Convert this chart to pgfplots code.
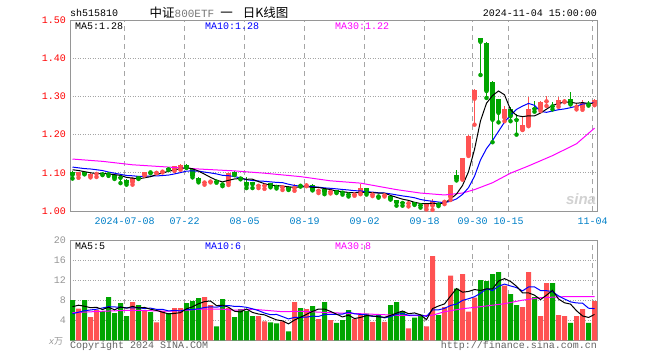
\documentclass[border=0pt]{standalone}
\usepackage{fontspec}
\setmainfont{Liberation Mono}
\newfontfamily\cjk{Noto Sans CJK SC}
\newfontfamily\sansb{Liberation Sans}
\usepackage{pgfplots}
\pgfplotsset{compat=1.18}
\usepackage{pgfplotstable}
\definecolor{kred}{RGB}{255,82,82}
\definecolor{kgreen}{RGB}{0,165,0}
\definecolor{mablue}{RGB}{0,0,255}
\definecolor{mamag}{RGB}{255,0,255}
\definecolor{gridc}{RGB}{165,165,165}
\definecolor{framec}{RGB}{150,150,150}
\definecolor{xlab}{RGB}{0,128,200}
\definecolor{copyc}{RGB}{100,100,100}
\definecolor{titlegray}{RGB}{120,120,120}

\pgfplotstableread{
x o h l c v
1 1.094 1.103 1.087 1.101 6.3
3 1.091 1.099 1.088 1.097 4.6
4 1.097 1.102 1.089 1.100 6.0
10 1.075 1.089 1.069 1.087 7.6
12 1.095 1.103 1.093 1.101 6.0
14 1.100 1.104 1.099 1.103 3.6
15 1.103 1.107 1.101 1.106 5.8
17 1.107 1.118 1.105 1.117 6.4
18 1.110 1.123 1.108 1.121 6.4
22 1.0745 1.077 1.069 1.0765 8.6
23 1.077 1.081 1.075 1.079 7.0
26 1.073 1.100 1.068 1.099 6.4
31 1.066 1.070 1.060 1.068 4.8
32 1.066 1.069 1.058 1.068 3.8
35 1.062 1.067 1.055 1.064 3.8
37 1.060 1.071 1.053 1.063 7.6
39 1.067 1.074 1.065 1.069 6.2
41 1.053 1.058 1.047 1.055 4.2
43 1.050 1.055 1.046 1.053 4.0
47 1.043 1.047 1.040 1.045 4.2
48 1.046 1.071 1.044 1.060 5.1
50 1.043 1.046 1.039 1.045 3.7
52 1.041 1.046 1.038 1.043 3.7
56 1.020 1.025 1.012 1.022 2.4
59 1.012 1.020 1.004 1.019 2.8
60 1.014 1.031 1.003 1.027 16.8
62 1.024 1.029 1.018 1.026 6.6
63 1.036 1.069 1.029 1.068 12.9
65 1.084 1.140 1.082 1.139 13.2
66 1.147 1.198 1.144 1.197 5.7
67 1.294 1.319 1.226 1.318 8.5
72 1.244 1.274 1.235 1.268 10.9
75 1.213 1.249 1.212 1.224 6.6
76 1.224 1.299 1.222 1.268 13.6
78 1.266 1.287 1.262 1.285 4.8
79 1.287 1.301 1.275 1.289 11.4
81 1.279 1.298 1.273 1.290 5.0
82 1.287 1.292 1.285 1.289 4.8
84 1.273 1.281 1.266 1.276 4.8
85 1.270 1.290 1.265 1.283 6.2
87 1.279 1.293 1.277 1.290 7.8
}\redk

\pgfplotstableread{
x o h l c v
0 1.101 1.104 1.085 1.095 8.0
2 1.102 1.104 1.096 1.097 8.0
5 1.099 1.101 1.094 1.096 5.8
6 1.098 1.100 1.092 1.096 8.6
7 1.093 1.095 1.084 1.087 5.4
8 1.090 1.091 1.073 1.087 7.4
9 1.082 1.083 1.069 1.074 4.8
11 1.091 1.092 1.084 1.086 7.0
13 1.103 1.104 1.099 1.101 5.6
16 1.112 1.113 1.108 1.109 5.4
19 1.121 1.122 1.113 1.114 7.4
20 1.112 1.113 1.088 1.092 7.8
21 1.087 1.089 1.075 1.079 8.4
24 1.079 1.080 1.074 1.077 2.8
25 1.0715 1.074 1.065 1.0695 8.2
27 1.103 1.104 1.094 1.095 4.6
28 1.088 1.090 1.083 1.085 6.2
29 1.075 1.088 1.060 1.067 5.8
30 1.076 1.077 1.060 1.070 4.8
33 1.073 1.074 1.062 1.064 3.6
34 1.065 1.067 1.059 1.063 3.4
36 1.064 1.065 1.055 1.057 1.8
38 1.068 1.069 1.064 1.066 6.4
40 1.069 1.070 1.054 1.055 6.8
42 1.057 1.058 1.044 1.049 7.6
44 1.054 1.055 1.047 1.049 3.5
45 1.050 1.051 1.043 1.048 4.0
46 1.045 1.046 1.038 1.043 6.0
49 1.059 1.060 1.043 1.047 5.3
51 1.040 1.041 1.035 1.038 5.1
53 1.040 1.042 1.030 1.031 7.0
54 1.029 1.030 1.014 1.022 7.6
55 1.023 1.024 1.014 1.021 5.8
57 1.023 1.024 1.016 1.018 4.5
58 1.017 1.021 1.009 1.015 5.1
61 1.019 1.022 1.013 1.017 5.0
64 1.095 1.108 1.080 1.084 10.3
68 1.452 1.453 1.356 1.443 12.0
69 1.441 1.442 1.296 1.314 11.8
70 1.338 1.340 1.180 1.239 13.2
71 1.292 1.293 1.232 1.257 13.6
73 1.266 1.273 1.235 1.248 9.2
74 1.241 1.253 1.200 1.238 7.0
77 1.270 1.287 1.260 1.267 8.6
80 1.276 1.285 1.266 1.274 11.4
83 1.294 1.311 1.279 1.281 3.5
86 1.282 1.288 1.276 1.279 3.5
}\greenk

\pgfplotstableread{
x y
0 1.108
1 1.106
2 1.103
3 1.100
4 1.0980
5 1.0982
6 1.0972
7 1.0952
8 1.0932
9 1.0880
10 1.0862
11 1.0842
12 1.0870
13 1.0898
14 1.0956
15 1.0994
16 1.1040
17 1.1072
18 1.1112
19 1.1134
20 1.1106
21 1.1046
22 1.0965
23 1.0881
24 1.0807
25 1.0762
26 1.0802
27 1.0839
28 1.0851
29 1.0831
30 1.0832
31 1.0770
32 1.0716
33 1.0674
34 1.0666
35 1.0654
36 1.0632
37 1.0622
38 1.0626
39 1.0638
40 1.0620
41 1.0616
42 1.0588
43 1.0562
44 1.0522
45 1.0508
46 1.0484
47 1.0476
48 1.0490
49 1.0486
50 1.0480
51 1.0470
52 1.0466
53 1.0408
54 1.0358
55 1.0310
56 1.0278
57 1.0228
58 1.0196
59 1.0190
60 1.0202
61 1.0192
62 1.0208
63 1.0314
64 1.0444
65 1.0668
66 1.1028
67 1.1612
68 1.2362
69 1.2822
70 1.3022
71 1.3142
72 1.3042
73 1.2652
74 1.2500
75 1.2470
76 1.2492
77 1.2490
78 1.2564
79 1.2666
80 1.2766
81 1.2810
82 1.2854
83 1.2846
84 1.2820
85 1.2838
86 1.2816
87 1.2818
}\mafive

\pgfplotstableread{
x y
0 1.115
1 1.113
2 1.111
3 1.110
4 1.108
5 1.106
6 1.102
7 1.099
8 1.096
9 1.0930
10 1.0922
11 1.0907
12 1.0911
13 1.0915
14 1.0918
15 1.0928
16 1.0941
17 1.0971
18 1.1005
19 1.1045
20 1.1050
21 1.1043
22 1.1019
23 1.0997
24 1.0971
25 1.0934
26 1.0924
27 1.0902
28 1.0866
29 1.0819
30 1.0797
31 1.0786
32 1.0778
33 1.0763
34 1.0749
35 1.0743
36 1.0701
37 1.0669
38 1.0650
39 1.0652
40 1.0637
41 1.0624
42 1.0605
43 1.0594
44 1.0580
45 1.0564
46 1.0550
47 1.0532
48 1.0526
49 1.0504
50 1.0494
51 1.0477
52 1.0471
53 1.0449
54 1.0422
55 1.0395
56 1.0374
57 1.0347
58 1.0302
59 1.0274
60 1.0256
61 1.0235
62 1.0218
63 1.0255
64 1.0317
65 1.0435
66 1.0610
67 1.0910
68 1.1338
69 1.1633
70 1.1845
71 1.2085
72 1.2327
73 1.2507
74 1.2661
75 1.2746
76 1.2817
77 1.2766
78 1.2608
79 1.2583
80 1.2618
81 1.2651
82 1.2672
83 1.2705
84 1.2743
85 1.2802
86 1.2813
87 1.2836
}\maten

\pgfplotstableread{
x y
0 1.136
5 1.130
10 1.121
16 1.115
21 1.110
27 1.105
32 1.099
38 1.090
43 1.079
48 1.073
54 1.056
58 1.047
62 1.042
65 1.047
67 1.056
70 1.074
73 1.099
76 1.118
80 1.145
84 1.176
87 1.217
}\mathirty

\pgfplotstableread{
x y
0 6.7
1 7.0
2 6.8
3 6.5
4 6.58
5 6.14
6 6.60
7 6.08
8 6.64
9 6.40
10 6.76
11 6.44
12 6.56
13 6.20
14 5.96
15 5.60
16 5.28
17 5.36
18 5.52
19 6.28
20 6.68
21 7.28
22 7.72
23 7.84
24 6.92
25 7.00
26 6.60
27 5.80
28 5.64
29 6.24
30 5.56
31 5.24
32 5.08
33 4.56
34 4.08
35 3.88
36 3.28
37 4.04
38 4.60
39 5.16
40 5.76
41 6.24
42 6.24
43 5.76
44 5.22
45 4.66
46 5.02
47 4.34
48 4.56
49 4.92
50 4.86
51 4.68
52 4.58
53 4.96
54 5.42
55 5.84
56 5.30
57 5.46
58 5.08
59 4.12
60 6.32
61 6.84
62 7.26
63 8.82
64 10.32
65 9.60
66 9.74
67 10.12
68 9.94
69 10.24
70 10.24
71 11.82
72 12.30
73 11.74
74 10.78
75 9.46
76 9.46
77 9.00
78 8.12
79 9.00
80 9.96
81 8.24
82 7.48
83 7.22
84 5.90
85 4.86
86 4.56
87 5.16
}\vfive

\pgfplotstableread{
x y
0 5.3
2 5.9
4 6.2
6 6.7
8 6.6
9 6.49
10 6.45
11 6.52
12 6.32
13 6.42
14 6.18
15 6.18
16 5.86
17 5.96
18 5.86
19 6.12
20 6.14
21 6.28
22 6.54
23 6.68
24 6.60
25 6.84
26 6.94
27 6.76
28 6.74
29 6.58
30 6.28
31 5.92
32 5.44
33 5.10
34 5.16
35 4.72
36 4.26
37 4.56
38 4.58
39 4.62
40 4.82
41 4.76
42 5.14
43 5.18
44 5.19
45 5.21
46 5.63
47 5.29
48 5.16
49 5.07
50 4.76
51 4.85
52 4.46
53 4.76
54 5.17
55 5.35
56 4.99
57 5.02
58 5.02
59 4.77
60 6.08
61 6.07
62 6.36
63 6.95
64 7.22
65 7.96
66 8.29
67 8.69
68 9.38
69 10.28
70 9.92
71 10.78
72 11.21
73 10.84
74 10.51
75 9.85
76 10.64
77 10.65
78 9.93
79 9.89
80 9.71
81 8.85
82 8.24
83 7.67
84 7.45
85 7.41
86 6.40
87 6.32
}\vten

\pgfplotstableread{
x y
0 5.5
5 5.8
10 6.0
16 5.8
19 6.0
21 6.2
25 6.2
27 6.0
30 6.2
32 6.0
35 5.7
38 5.8
43 5.5
48 5.3
54 5.0
58 4.9
60 5.0
62 5.7
65 6.3
68 6.7
72 7.3
75 8.0
78 8.5
82 8.7
85 8.7
87 8.7
}\vthirty

\pgfplotsset{kaxis/.style={
  scale only axis, anchor=south west,
  xmin=-0.4167, xmax=87.4167,
  axis line style={draw=framec, line width=1pt},
  major tick length=0pt,
  xtick={8.7,18.7,28.7,38.7,48.7,58.7,66.7,72.7,86.7},
  xmajorgrids, ymajorgrids,
  x grid style={draw=gridc, line width=1pt, dash pattern=on 5pt off 4pt},
  y grid style={draw=gridc, line width=0.8pt, dash pattern=on 1pt off 1.5pt},
  every tick label/.append style={font=\fontsize{10}{12}\selectfont},
  yticklabel style={anchor=east, xshift=-4pt, inner sep=0pt},
}}

\begin{document}
\begin{tikzpicture}[x=1pt,y=1pt]
\fill[white] (0,0) rectangle (660,360);

% price panel
\begin{axis}[kaxis, at={(70pt,149pt)}, width=527pt, height=191pt,
  ymin=1.0, ymax=1.5,
  ytick={1.0,1.1,1.2,1.3,1.4,1.5},
  yticklabels={1.00,1.10,1.20,1.30,1.40,1.50},
  yticklabel style={text=red},
  xticklabels={2024-07-08,07-22,08-05,08-19,09-02,09-18,09-30,10-15,11-04},
  xticklabel style={text=xlab, anchor=center, yshift=-10pt},
]
% wicks
\addplot[kred, only marks, mark=none, error bars/.cd, y dir=plus, y explicit, error mark=none,
  error bar style={line width=1pt, kred}]
  table[x=x, y=l, y error expr=\thisrow{h}-\thisrow{l}] {\redk};
\addplot[kgreen, only marks, mark=none, error bars/.cd, y dir=plus, y explicit, error mark=none,
  error bar style={line width=1pt, kgreen}]
  table[x=x, y=l, y error expr=\thisrow{h}-\thisrow{l}] {\greenk};
% bodies
\addplot[kred, only marks, mark=none, error bars/.cd, y dir=plus, y explicit, error mark=none,
  error bar style={line width=5pt, kred}]
  table[x=x, y=o, y error expr=\thisrow{c}-\thisrow{o}] {\redk};
\addplot[kgreen, only marks, mark=none, error bars/.cd, y dir=plus, y explicit, error mark=none,
  error bar style={line width=5pt, kgreen}]
  table[x=x, y=c, y error expr=\thisrow{o}-\thisrow{c}] {\greenk};
% moving averages
\addplot[mamag, line width=1pt, mark=none] table[x=x,y=y] {\mathirty};
\addplot[mablue, line width=1pt, mark=none] table[x=x,y=y] {\maten};
\addplot[black, line width=1pt, mark=none] table[x=x,y=y] {\mafive};
\end{axis}

% volume panel
\begin{axis}[kaxis, at={(70pt,19.7pt)}, width=527pt, height=100.3pt,
  ymin=0, ymax=20,
  ytick={4,8,12,16,20}, yticklabels={4,8,12,16,20},
  yticklabel style={text=framec},
  xticklabels={},
]
\addplot[ybar, bar width=5pt, bar shift=0pt, fill=kred, draw=none] table[x=x, y=v] {\redk};
\addplot[ybar, bar width=5pt, bar shift=0pt, fill=kgreen, draw=none] table[x=x, y=v] {\greenk};
\addplot[mamag, line width=1pt, mark=none] table[x=x,y=y] {\vthirty};
\addplot[mablue, line width=1pt, mark=none] table[x=x,y=y] {\vten};
\addplot[black, line width=1pt, mark=none] table[x=x,y=y] {\vfive};
\end{axis}

% texts
\node[anchor=west, inner sep=0pt, font=\fontsize{10}{12}\selectfont] at (70,346.7) {sh515810};
\node[anchor=east, inner sep=0pt, font=\fontsize{10}{12}\selectfont] at (597,347) {2024-11-04 15:00:00};
\node[anchor=center, inner sep=0pt] at (219,347.5) {{\cjk\fontsize{12.5}{14}\selectfont 中证}{\fontsize{11}{13}\selectfont\color{titlegray}800ETF}\hspace{6pt}{\cjk\fontsize{12.5}{14}\selectfont 一}\hspace{10pt}{\cjk\fontsize{12.5}{14}\selectfont 日K线图}};

\node[anchor=west, inner sep=0pt, font=\fontsize{10}{12}\selectfont] at (75,333.7) {MA5:1.28};
\node[anchor=west, inner sep=0pt, font=\fontsize{10}{12}\selectfont, text=mablue] at (205,333.7) {MA10:1.28};
\node[anchor=west, inner sep=0pt, font=\fontsize{10}{12}\selectfont, text=mamag] at (335,333.7) {MA30:1.22};

\node[anchor=west, inner sep=0pt, font=\fontsize{10}{12}\selectfont] at (75,114) {MA5:5};
\node[anchor=west, inner sep=0pt, font=\fontsize{10}{12}\selectfont, text=mablue] at (205,114) {MA10:6};
\node[anchor=west, inner sep=0pt, font=\fontsize{10}{12}\selectfont, text=mamag] at (335,114) {MA30:8};

\node[anchor=base west, inner sep=0pt, font=\fontsize{10}{12}\selectfont, text=copyc] at (70,11.7) {Copyright 2024 SINA.COM};
\node[anchor=base east, inner sep=0pt, font=\fontsize{10}{12}\selectfont, text=copyc] at (597,11.7) {http://finance.sina.com.cn};
\node[anchor=center, inner sep=0pt, text=framec] at (56,19) {{\fontsize{9}{10}\selectfont\itshape x}{\cjk\fontsize{9}{10}\selectfont 万}};
\node[anchor=center, inner sep=0pt, text=gray!35, font=\sansb\bfseries\itshape\fontsize{15}{15}\selectfont] at (581,161) {sina};
\end{tikzpicture}
\end{document}
